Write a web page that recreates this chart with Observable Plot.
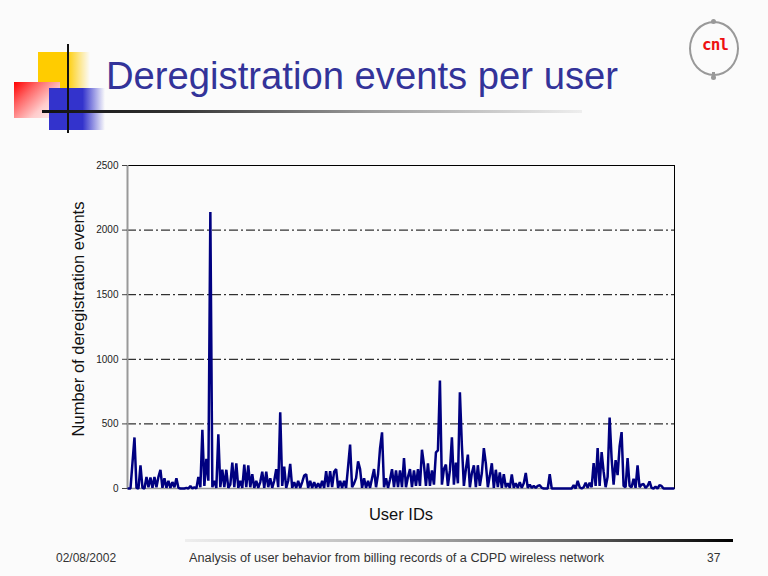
<!DOCTYPE html>
<html>
<head>
<meta charset="utf-8">
<script src="https://cdn.jsdelivr.net/npm/d3@7"></script>
<script src="https://cdn.jsdelivr.net/npm/@observablehq/plot@0.6"></script>
<style>
  html, body { margin: 0; padding: 0; }
  body { width: 768px; height: 576px; background: #fbfbfb; position: relative; overflow: hidden; font-family: "Liberation Sans", Arial, sans-serif; }
  .abs { position: absolute; }
  #title { left: 106px; top: 57px; font-size: 38px; line-height: 38px; color: #333399; white-space: nowrap; transform-origin: 0 0; }
  .foot { top: 552px; font-size: 12px; line-height: 12px; color: #333; white-space: nowrap; }
  #chart { left: 0; top: 150px; }
</style>
</head>
<body>
<!-- decorations -->
<div class="abs" style="left:38px;top:52px;width:52px;height:36px;background:linear-gradient(to right,#ffcc00 0%,#ffcc00 55%,rgba(255,204,0,0) 100%);"></div>
<div class="abs" style="left:14px;top:82px;width:46px;height:36px;background:linear-gradient(135deg,#ff0000 0%,#ff6666 30%,#ffcccc 65%,rgba(255,220,220,0.2) 100%);"></div>
<div class="abs" style="left:49px;top:88px;width:56px;height:42px;background:linear-gradient(to right,#3333cc 0%,#3333cc 60%,rgba(51,51,204,0) 100%);"></div>
<div class="abs" style="left:67px;top:44px;width:2px;height:89px;background:#111;"></div>
<div class="abs" style="left:42px;top:110px;width:540px;height:3px;background:linear-gradient(to right,#111 0%,#333 25%,#999 60%,#eee 100%);"></div>
<div id="title" class="abs">Deregistration events per user</div>
<!-- logo -->
<div class="abs" style="left:689px;top:21px;width:46px;height:51px;border:2px solid #999;border-radius:50%;"></div>
<div class="abs" style="left:711px;top:19px;width:5px;height:5px;background:#999;border-radius:50%;"></div>
<div class="abs" style="left:712px;top:72px;width:3px;height:4px;background:#999;"></div>
<div class="abs" style="left:711px;top:75px;width:5px;height:5px;background:#999;border-radius:50%;"></div>
<div class="abs" style="left:694px;top:37px;width:42px;text-align:center;font-family:'DejaVu Sans Mono',monospace;font-weight:bold;font-size:16px;line-height:16px;color:#ee1111;letter-spacing:-1px;">cnl</div>
<!-- chart -->
<div id="chart" class="abs"></div>
<!-- footer -->
<div class="abs" style="left:185px;top:539px;width:548px;height:3px;background:linear-gradient(to right,#eee 0%,#bbb 35%,#666 70%,#000 100%);"></div>
<div class="abs foot" style="left:56px;">02/08/2002</div>
<div class="abs foot" id="foottext" style="left:189px;transform-origin:0 0;">Analysis of user behavior from billing records of a CDPD wireless network</div>
<div class="abs foot" style="left:707px;">37</div>
<script>
// Deregistration events per user (user IDs in order)
const events = [
  0, 0, 200, 395, 5, 0, 180, 5, 0, 90,
  10, 85, 5, 90, 10, 90, 145, 5, 80, 5,
  60, 5, 50, 10, 80, 5, 0, 0, 0, 5,
  0, 20, 0, 10, 0, 90, 10, 455, 20, 230,
  60, 2140, 10, 60, 5, 420, 10, 145, 10, 145,
  5, 30, 200, 10, 195, 5, 60, 5, 185, 10,
  180, 10, 110, 5, 60, 5, 50, 130, 5, 130,
  10, 80, 5, 60, 150, 10, 590, 20, 170, 5,
  60, 190, 5, 50, 5, 60, 5, 50, 100, 110,
  5, 60, 5, 50, 5, 40, 5, 60, 5, 135,
  10, 135, 10, 130, 150, 5, 60, 5, 60, 5,
  170, 340, 10, 40, 80, 210, 150, 5, 80, 5,
  60, 5, 80, 150, 10, 110, 310, 435, 10, 80,
  5, 70, 150, 10, 140, 10, 140, 10, 235, 10,
  90, 150, 10, 140, 20, 150, 20, 300, 185, 20,
  195, 20, 140, 30, 280, 295, 836, 30, 150, 185,
  20, 140, 397, 30, 200, 40, 745, 333, 20, 150,
  262, 10, 120, 180, 10, 180, 20, 120, 312, 195,
  10, 100, 195, 5, 145, 10, 125, 5, 110, 10,
  40, 5, 108, 5, 40, 5, 50, 5, 40, 120,
  5, 30, 5, 20, 5, 20, 25, 5, 0, 0,
  0, 110, 0, 0, 0, 0, 0, 0, 0, 0,
  0, 0, 0, 25, 0, 60, 10, 0, 10, 45,
  5, 45, 10, 196, 20, 312, 20, 281, 130, 10,
  90, 550, 232, 30, 220, 103, 325, 436, 20, 10,
  235, 20, 10, 75, 5, 180, 10, 30, 35, 5,
  20, 55, 5, 0, 15, 0, 25, 20, 0, 0,
  0, 0, 0, 0
];
const yTicks = [0, 500, 1000, 1500, 2000, 2500];
const gridValues = [500, 1000, 1500, 2000];
const yLabel = "Number of deregistration events";
const xLabel = "User IDs";

const n = events.length;
const chart = Plot.plot({
  width: 700,
  height: 380,
  marginLeft: 127,
  marginRight: 26,
  marginTop: 15,
  marginBottom: 42,
  style: { background: "transparent", fontFamily: "'Liberation Sans', Arial, sans-serif", color: "#222" },
  x: { domain: [-0.5, n - 0.5], axis: null },
  y: { domain: [0, 2500], axis: null },
  marks: [
    Plot.ruleY(gridValues, { stroke: "#000", strokeWidth: 1, strokeDasharray: "9,3,2,3" }),
    Plot.frame({ stroke: "#000", strokeWidth: 1 }),
    Plot.ruleX([-0.5], { stroke: "#999", strokeWidth: 2 }),
    Plot.ruleY([0], { stroke: "#999", strokeWidth: 1.5 }),
    Plot.axisY({ ticks: yTicks, tickSize: 5, tickPadding: 4, fontSize: 10, label: null, tickFormat: d => String(d), stroke: "#444" }),
    Plot.lineY(events, { stroke: "#000080", strokeWidth: 2.5, strokeLinejoin: "miter" }),
    Plot.text([yLabel], { text: d => d, frameAnchor: "left", textAnchor: "middle", dx: -49, dy: -8, rotate: -90, fontSize: 16.5, fill: "#111" }),
    Plot.text([xLabel], { text: d => d, frameAnchor: "bottom", dy: 31, fontSize: 16.5, fill: "#111" })
  ]
});
document.getElementById("chart").appendChild(chart);

// fit title and footer text to the widths seen on the slide
function fit(id, target) {
  const el = document.getElementById(id);
  const w = el.getBoundingClientRect().width;
  if (w > 0) el.style.transform = `scaleX(${target / w})`;
}
fit("title", 512);
fit("foottext", 415);
</script>
</body>
</html>
